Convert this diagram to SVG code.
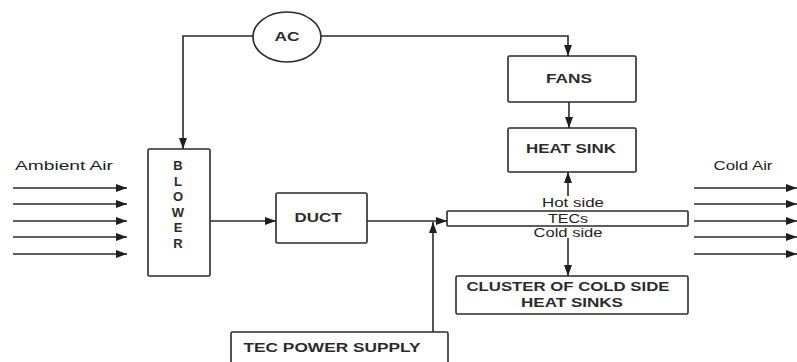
<svg xmlns="http://www.w3.org/2000/svg" width="797" height="362" viewBox="0 0 797 362">
<defs>
<marker id="ah" markerWidth="11" markerHeight="8" refX="11" refY="4" orient="auto" markerUnits="userSpaceOnUse">
<path d="M0,0 L11,4 L0,8 Z" fill="#1e1e1e"/>
</marker>
</defs>
<style>
.box{fill:#fff;stroke:#2a2a2a;stroke-width:1.6}
.arr{fill:none;stroke:#2a2a2a;stroke-width:1.6;marker-end:url(#ah)}
text{font-family:"Liberation Sans",Arial,sans-serif;font-size:12.5px;font-weight:bold;fill:#2b2b2b;text-anchor:middle;dominant-baseline:central}
.m{font-weight:normal;font-size:13px;fill:#1e1e1e}
.bl{font-size:13px}
</style>
<rect width="797" height="362" fill="#fff"/>
<g id="connectors">
<path class="arr" d="M253,36 H183 V149"/>
<path class="arr" d="M321,36 H568 V56"/>
<path class="arr" d="M569,102 V128"/>
<path class="arr" d="M568,196 V172"/>
<path class="arr" d="M568,238 V276"/>
<path class="arr" d="M210,221 H276"/>
<path class="arr" d="M367,221 H447"/>
<path class="arr" d="M433,332 V222"/>
<path class="arr" d="M13,188 H127"/>
<path class="arr" d="M13,204 H127"/>
<path class="arr" d="M13,221 H127"/>
<path class="arr" d="M13,237 H127"/>
<path class="arr" d="M13,254 H127"/>
<path class="arr" d="M694,188 H797"/>
<path class="arr" d="M694,204 H797"/>
<path class="arr" d="M694,221 H797"/>
<path class="arr" d="M694,237 H797"/>
<path class="arr" d="M694,254 H797"/>
</g>
<g id="ambient-air"><text class="m" x="64" y="165" textLength="98" lengthAdjust="spacingAndGlyphs">Ambient Air</text></g>
<g id="cold-air"><text class="m" x="743" y="165" textLength="59" lengthAdjust="spacingAndGlyphs">Cold Air</text></g>
<g id="ac"><ellipse cx="287" cy="37" rx="34" ry="25" class="box"/><text x="287" y="37" textLength="25" lengthAdjust="spacingAndGlyphs">AC</text></g>
<g id="blower"><rect x="148" y="149" width="62" height="127" rx="1.5" class="box"/>
<text class="bl" x="178" y="165">B</text><text class="bl" x="178" y="181">L</text><text class="bl" x="178" y="196">O</text><text class="bl" x="178" y="212">W</text><text class="bl" x="178" y="227">E</text><text class="bl" x="178" y="243">R</text></g>
<g id="duct"><rect x="276" y="193" width="91" height="50" rx="1.5" class="box"/><text x="318" y="218" textLength="47" lengthAdjust="spacingAndGlyphs">DUCT</text></g>
<g id="fans"><rect x="508" y="56" width="128" height="46" rx="1.5" class="box"/><text x="569" y="79" textLength="46" lengthAdjust="spacingAndGlyphs">FANS</text></g>
<g id="heat-sink"><rect x="508" y="128" width="128" height="44" rx="1.5" class="box"/><text x="571" y="149" textLength="90" lengthAdjust="spacingAndGlyphs">HEAT SINK</text></g>
<g id="tecs"><rect x="447" y="211" width="241" height="15" rx="1" class="box"/>
<text class="m" x="573" y="202" textLength="62" lengthAdjust="spacingAndGlyphs">Hot side</text>
<text class="m" x="568" y="218" textLength="40" lengthAdjust="spacingAndGlyphs">TECs</text>
<text class="m" x="568" y="232" textLength="69" lengthAdjust="spacingAndGlyphs">Cold side</text></g>
<g id="cluster"><rect x="456" y="276" width="232" height="38" rx="1.5" class="box"/>
<text x="568" y="287" textLength="203" lengthAdjust="spacingAndGlyphs">CLUSTER OF COLD SIDE</text>
<text x="572" y="303" textLength="102" lengthAdjust="spacingAndGlyphs">HEAT SINKS</text></g>
<g id="tec-power-supply"><rect x="231" y="332" width="217" height="40" rx="1.5" class="box"/><text x="332" y="348" textLength="177" lengthAdjust="spacingAndGlyphs">TEC POWER SUPPLY</text></g>
</svg>
